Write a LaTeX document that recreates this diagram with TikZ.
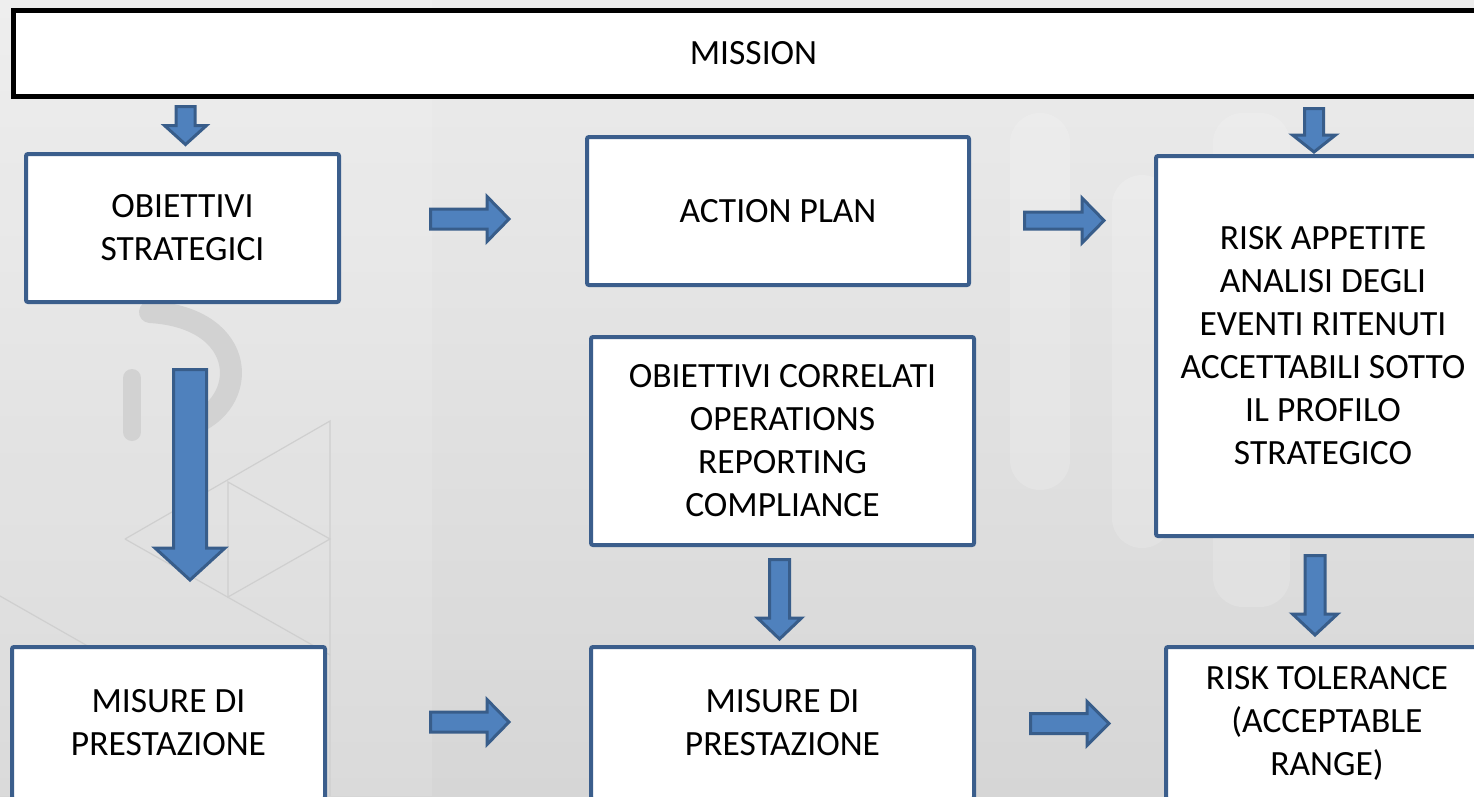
\documentclass[tikz,border=0pt]{standalone}
\usepackage{fontspec}
\setmainfont{Carlito}
\definecolor{bgtop}{HTML}{ECECEC}
\definecolor{bgbot}{HTML}{D6D6D6}
\definecolor{boxblue}{HTML}{3B5E8C}
\definecolor{arrowfill}{HTML}{4F81BD}
\definecolor{arrowline}{HTML}{385D8A}
\definecolor{faintline}{HTML}{CFCFCF}
\definecolor{faintshape}{HTML}{D2D2D2}

\tikzset{
  box/.style={draw=boxblue, line width=4pt, fill=white, rounded corners=2pt,
    align=center, inner sep=0pt, font=\fontsize{35.5}{43}\selectfont},
  missionbox/.style={draw=black, line width=5pt, fill=white,
    align=center, inner sep=0pt, font=\fontsize{35.5}{43}\selectfont},
  blockarrow/.style={fill=arrowfill, draw=arrowline, line width=3pt, line join=miter},
  watermark/.style={draw=faintline, line width=1.2pt},
  pill/.style={fill=white, fill opacity=0.17, rounded corners=30pt}
}

% block arrow pointing right: x start, y centre, x tip, half shaft, half head, head length
\newcommand\rightblock[6]{%
  \filldraw[blockarrow] (#1,{#2-#4}) -- ({#3-#6},{#2-#4}) -- ({#3-#6},{#2-#5})
    -- (#3,#2) -- ({#3-#6},{#2+#5}) -- ({#3-#6},{#2+#4}) -- (#1,{#2+#4}) -- cycle;}
% block arrow pointing down: x centre, y start, y tip, half shaft, half head, head length
\newcommand\downblock[6]{%
  \filldraw[blockarrow] ({#1-#4},#2) -- ({#1+#4},#2) -- ({#1+#4},{#3-#6})
    -- ({#1+#5},{#3-#6}) -- (#1,#3) -- ({#1-#5},{#3-#6}) -- ({#1-#4},{#3-#6}) -- cycle;}

\begin{document}
\begin{tikzpicture}[x=1pt,y=-1pt]
  \useasboundingbox (0,0) rectangle (1474,796);
  \clip (0,0) rectangle (1474,796);

  % background
  \shade[top color=bgtop, bottom color=bgbot] (0,0) rectangle (1474,796);
  \fill[white, opacity=0.12] (0,0) rectangle (432,796);
  \fill[pill] (1010,113) rectangle (1070,490);
  \fill[pill] (1112,175) rectangle (1172,548);
  \fill[pill] (1213,113) rectangle (1290,607);
  % faint curved stroke of the emblem under the strategic box
  \draw[faintshape, line width=22pt, line cap=round]
    (150,312) .. controls (250,318) and (250,405) .. (190,425);
  \draw[faintshape, line width=18pt, line cap=round] (132,378) -- (132,432);
  \draw[watermark] (125,539) -- (330,421) -- (330,796);
  \draw[watermark] (228,482) -- (330,539) -- (228,597) -- cycle;
  \draw[watermark] (125,539) -- (330,655);
  \draw[watermark] (0,596) -- (100,653);

  % boxes
  \node[missionbox, minimum width=1480, minimum height=86] (mission) at (753.5,53.5) {MISSION};
  \node[box, minimum width=313, minimum height=148] (strat) at (182.5,228) {OBIETTIVI\\STRATEGICI};
  \node[box, minimum width=382, minimum height=148] (action) at (778,211) {ACTION PLAN};
  \node[box, minimum width=334, minimum height=380] (appetite) at (1323,346)
    {RISK APPETITE\\ANALISI DEGLI\\EVENTI RITENUTI\\ACCETTABILI SOTTO\\IL PROFILO\\STRATEGICO};
  \node[box, minimum width=383, minimum height=208] (related) at (782.5,441)
    {OBIETTIVI CORRELATI\\OPERATIONS\\REPORTING\\COMPLIANCE};
  \node[box, minimum width=313, minimum height=152] (measL) at (168.5,723) {MISURE DI\\PRESTAZIONE};
  \node[box, minimum width=383, minimum height=152] (measM) at (782.5,723) {MISURE DI\\PRESTAZIONE};
  \node[box, minimum width=322, minimum height=152] (tolerance) at (1327,723)
    {RISK TOLERANCE\\(ACCEPTABLE\\RANGE)};

  % block arrows
  \downblock{185.5}{106.5}{144.5}{9.5}{21}{19}
  \downblock{190}{369.5}{580}{16.5}{35}{32}
  \downblock{1314}{108.5}{152}{9.5}{21.5}{17}
  \downblock{779.5}{559.5}{639}{10}{22}{21}
  \downblock{1315}{555.5}{635}{10}{22.5}{21}
  \rightblock{430.5}{219}{509}{10}{22.5}{22}
  \rightblock{1024.5}{220.5}{1104}{8.5}{22.5}{22}
  \rightblock{430.5}{722}{509}{10}{22.5}{22}
  \rightblock{1030.5}{723.5}{1109}{10}{22}{22}
\end{tikzpicture}
\end{document}
